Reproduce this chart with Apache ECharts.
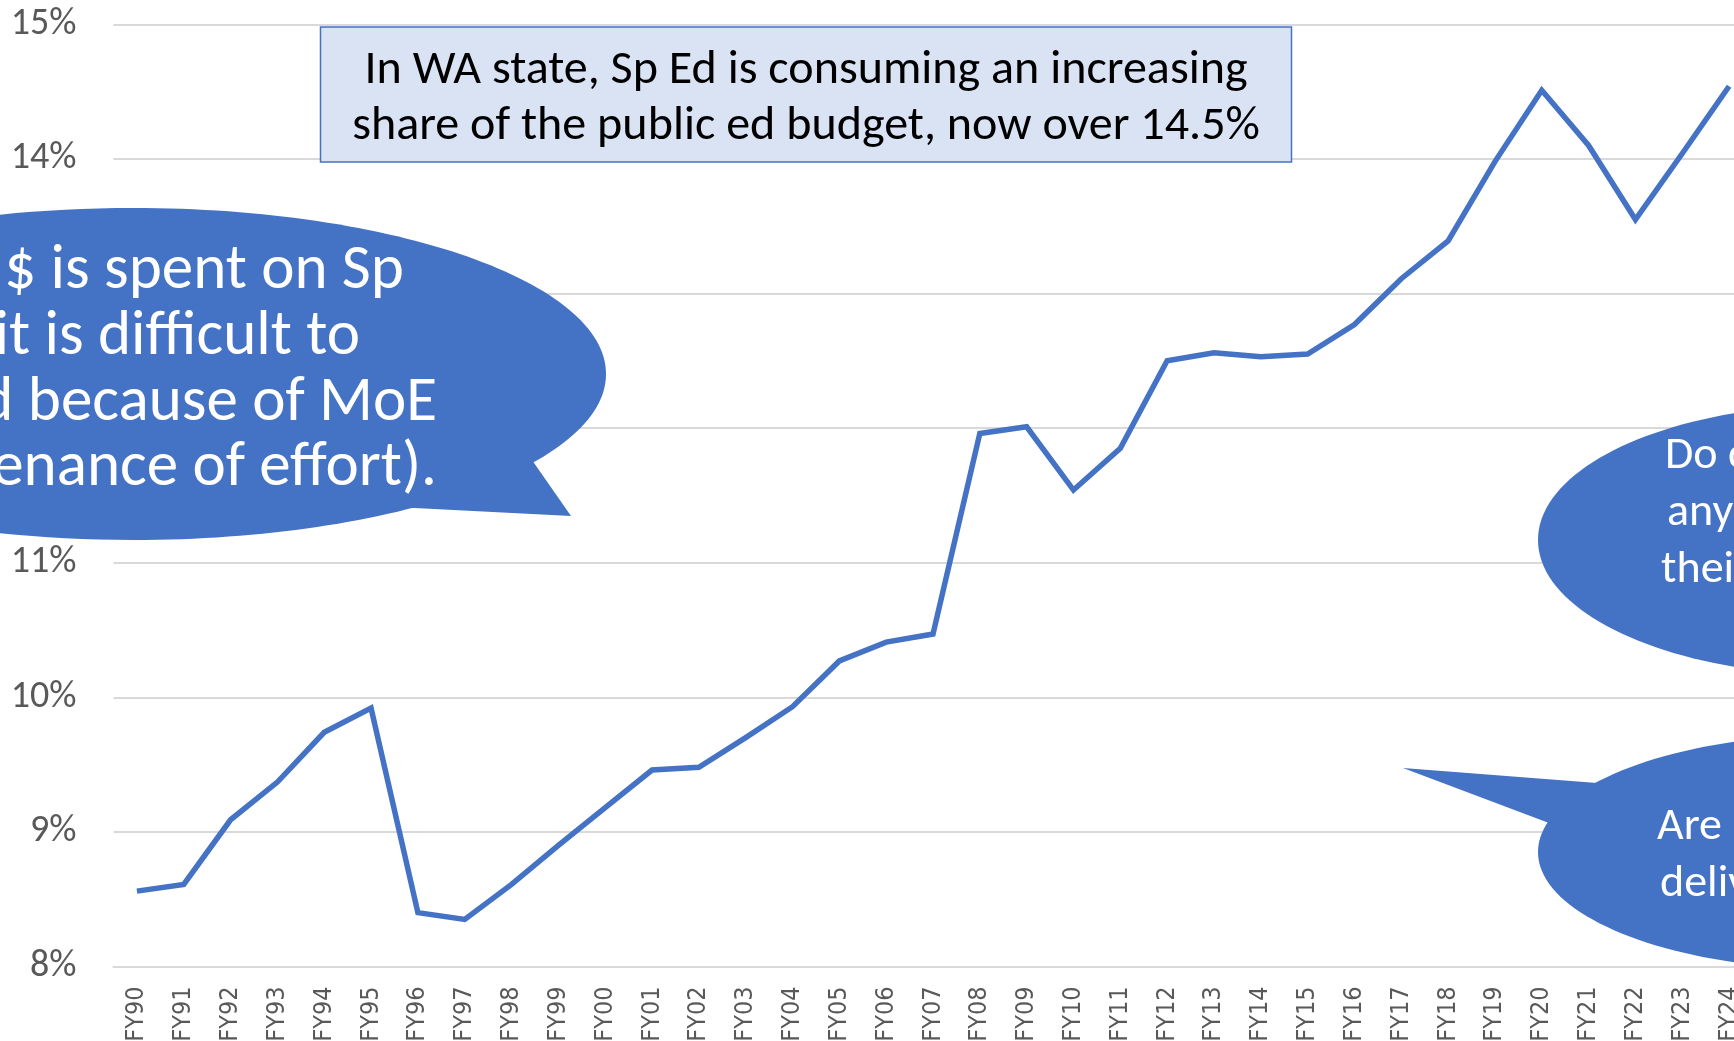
<!DOCTYPE html>
<html>
<head>
<meta charset="utf-8">
<title>WA Sp Ed share of public ed budget</title>
<script src="https://cdn.jsdelivr.net/npm/echarts@6/dist/echarts.min.js"></script>
<style>
  html, body { margin: 0; padding: 0; background: #fff; }
  #main1 { width: 1734px; height: 1041px; }
</style>
</head>
<body>
<div id="main1"></div>
<script>
// x axis categories
var fiscalYears = ['FY90', 'FY91', 'FY92', 'FY93', 'FY94', 'FY95', 'FY96', 'FY97', 'FY98', 'FY99',
  'FY00', 'FY01', 'FY02', 'FY03', 'FY04', 'FY05', 'FY06', 'FY07', 'FY08', 'FY09',
  'FY10', 'FY11', 'FY12', 'FY13', 'FY14', 'FY15', 'FY16', 'FY17', 'FY18', 'FY19',
  'FY20', 'FY21', 'FY22', 'FY23', 'FY24'];
// Sp Ed share of the public ed budget (%)
var spedShare = [8.56, 8.61, 9.09, 9.37, 9.74, 9.92, 8.40, 8.35, 8.61, 8.90,
  9.18, 9.46, 9.48, 9.70, 9.93, 10.27, 10.41, 10.47, 11.96, 12.01,
  11.54, 11.85, 12.50, 12.56, 12.53, 12.55, 12.77, 13.11, 13.39, 13.98,
  14.51, 14.10, 13.55, 14.04, 14.54];
// y axis ticks: 8% .. 15%
var yMin = 8;
var yMax = 15;
var yStep = 1;

// annotation texts (only what shows inside the frame)
var boxLines = ['In WA state, Sp Ed is consuming an increasing', 'share of the public ed budget, now over 14.5%'];
var leftCallout = ['$ is spent on Sp', 'it is difficult to', 'd because of MoE', 'enance of effort).'];
var rightTopCallout = ['Do c', 'any', 'thei'];
var rightBottomCallout = ['Are', 'deliv'];

var blue = '#4472C4';
var labelGray = '#595959';
var bodyFont = 'Carlito, Calibri, Lato, sans-serif';
var axisXFont = '"Liberation Sans Narrow", "DejaVu Sans Condensed", "Liberation Sans", sans-serif';

// scale font sizes so the fallback font takes the width Calibri had
var measureCtx = document.createElement('canvas').getContext('2d');
function textWidth(str, size, family) {
  measureCtx.font = size + 'px ' + family;
  return measureCtx.measureText(str).width;
}
var k = 908 / textWidth(boxLines[1], 48, bodyFont);

function textLines(lines, xs, baselines, size, color, align) {
  return lines.map(function (t, i) {
    return {
      type: 'text',
      x: Array.isArray(xs) ? xs[i] : xs,
      y: baselines[i] - 0.3 * size,
      z: 110,
      style: {
        text: t,
        fill: color,
        fontSize: size,
        fontFamily: bodyFont,
        textAlign: align,
        textVerticalAlign: 'middle'
      }
    };
  });
}

var myChart = echarts.init(document.getElementById('main1'));

var graphics = [
  // title box
  {
    type: 'rect', z: 100,
    shape: { x: 320.5, y: 27, width: 971, height: 135 },
    style: { fill: '#DAE3F3', stroke: blue, lineWidth: 1.5 }
  },
  // left callout
  {
    type: 'ellipse', z: 100,
    shape: { cx: 133, cy: 374, rx: 473, ry: 166 },
    style: { fill: blue }
  },
  {
    type: 'polygon', z: 100,
    shape: { points: [[525, 450], [571, 516], [395, 507]] },
    style: { fill: blue }
  },
  // right callouts
  {
    type: 'ellipse', z: 100,
    shape: { cx: 1838, cy: 540, rx: 300, ry: 135 },
    style: { fill: blue }
  },
  {
    type: 'ellipse', z: 100,
    shape: { cx: 1838, cy: 852, rx: 300, ry: 117.5 },
    style: { fill: blue }
  },
  {
    type: 'polygon', z: 100,
    shape: { points: [[1403, 768], [1597, 783], [1610, 810], [1549, 823]] },
    style: { fill: blue }
  }
];
graphics = graphics
  .concat(textLines(boxLines, 806, [85, 141.5], 48 * k, '#000', 'center'))
  .concat(textLines(leftCallout, [404, 360, 437, 437], [290.7, 356.7, 422.7, 488.3], 63 * k, '#fff', 'right'))
  .concat(textLines(rightTopCallout, [1665, 1667, 1661], [470.7, 527, 584.3], 46 * k, '#fff', 'left'))
  .concat(textLines(rightBottomCallout, [1657, 1660], [841.7, 898.3], 46 * k, '#fff', 'left'));

var option = {
  animation: false,
  backgroundColor: '#fff',
  grid: {
    left: 113.5,
    right: -18.5,
    top: 24.3,
    bottom: 74.5,
    outerBoundsMode: 'none'
  },
  xAxis: {
    type: 'category',
    data: fiscalYears,
    boundaryGap: true,
    axisLine: { show: true, lineStyle: { color: '#d9d9d9', width: 2 } },
    axisTick: { show: false },
    axisLabel: {
      interval: 0,
      rotate: 90,
      margin: 20,
      color: labelGray,
      fontSize: 25,
      fontFamily: axisXFont
    }
  },
  yAxis: {
    type: 'value',
    min: yMin,
    max: yMax,
    interval: yStep,
    axisLine: { show: false },
    axisTick: { show: false },
    splitLine: { lineStyle: { color: '#d9d9d9', width: 2 } },
    axisLabel: {
      formatter: '{value}%',
      margin: 37,
      color: labelGray,
      fontSize: 38 * k,
      fontFamily: bodyFont
    }
  },
  series: [
    {
      name: 'Sp Ed share',
      type: 'line',
      data: spedShare,
      symbol: 'none',
      lineStyle: { color: blue, width: 5.5, join: 'miter' }
    }
  ],
  graphic: graphics
};
myChart.setOption(option);
</script>
</body>
</html>
